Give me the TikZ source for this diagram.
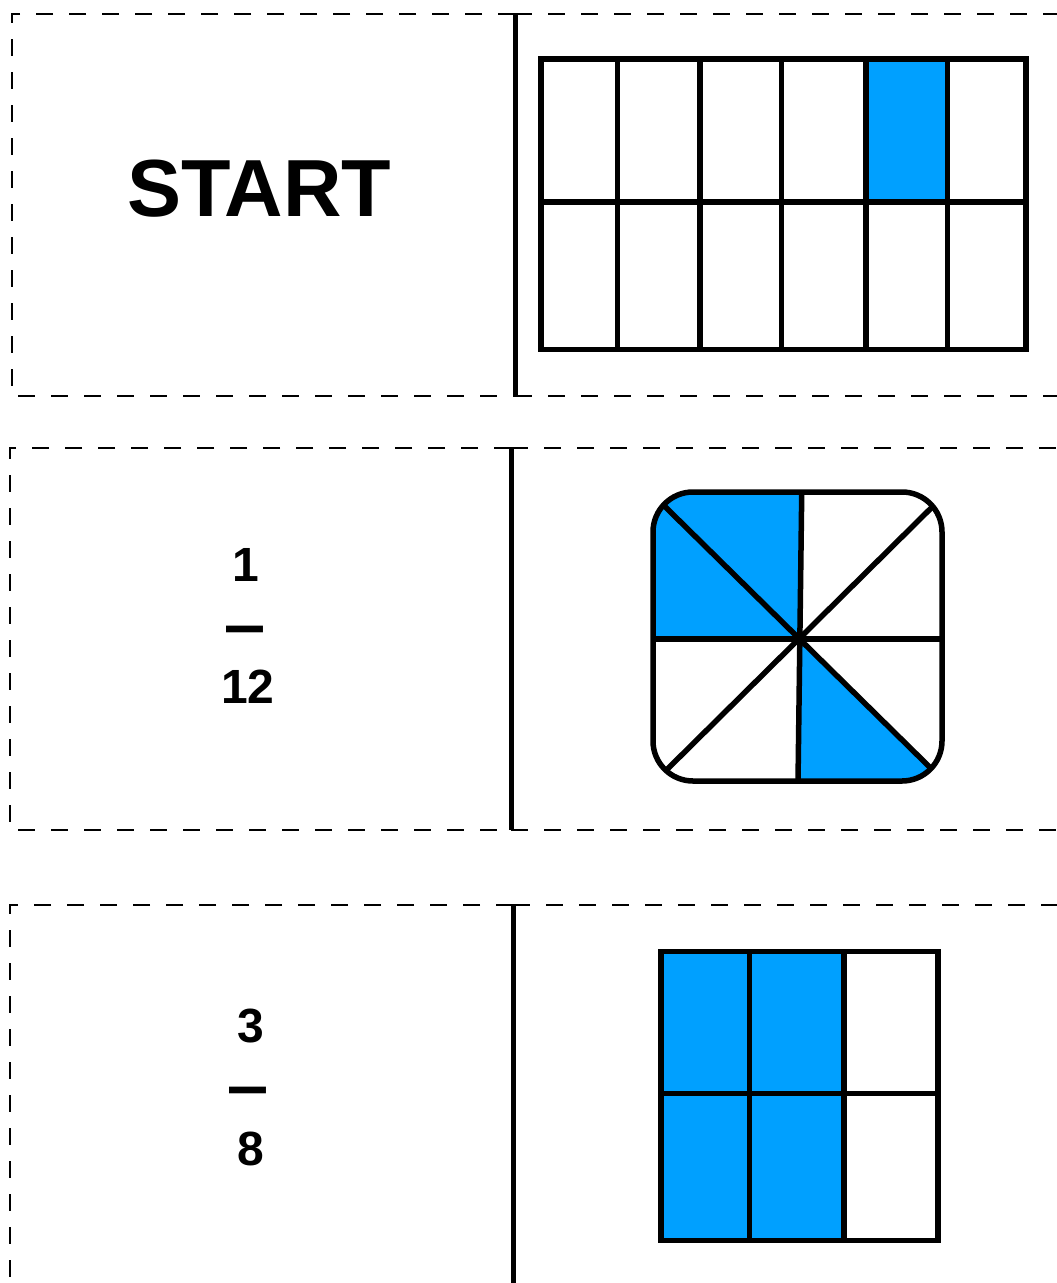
\documentclass[tikz,border=0pt]{standalone}
\usepackage{fontspec}
\setmainfont{Liberation Sans}
\usetikzlibrary{calc}
\definecolor{fillblue}{RGB}{0,160,255}
\tikzset{
  cut/.style={line width=2.4pt, dash pattern=on 17pt off 16pt},
  divider/.style={line width=5pt},
  gridline/.style={line width=5.5pt},
  shade/.style={fill=fillblue},
  bigword/.style={font=\fontsize{81}{81}\selectfont\bfseries, inner sep=0pt},
  fractext/.style={font=\fontsize{48}{48}\selectfont\bfseries, inner sep=0pt},
}
\begin{document}
\begin{tikzpicture}[x=1pt, y=-1pt]
\useasboundingbox (0,0) rectangle (1057,1283);
\fill[white] (0,0) rectangle (1057,1283);

% ---------- card 1 ----------
\draw[cut] (515,14) -- (12,14) -- (12,396) -- (515,396);
\draw[cut] (515,14) -- (1070,14);
\draw[cut] (515,396) -- (1070,396);
\draw[divider] (515,14) -- (515,396);
\node[bigword, anchor=base] (start) at (259,216) {START};

\fill[shade] (866,59) rectangle (947.5,202);
\draw[gridline] (541,59) rectangle (1026,349.5);
\foreach \gx in {617.5,700,781.5,866,947.5} {
  \draw[gridline] (\gx,59) -- (\gx,349.5);
}
\draw[gridline] (541,202) -- (1026,202);

% ---------- card 2 ----------
\draw[cut] (511,448) -- (10,448) -- (10,830) -- (511,830);
\draw[cut] (511,448) -- (1070,448);
\draw[cut] (511,830) -- (1070,830);
\draw[divider] (511,448) -- (511,830);
\node[fractext, anchor=base] (onenum) at (246,581) {1};
\node[fractext, anchor=base] (onebar) at (245,647) {\scalebox{0.77}[1.4]{—}};
\node[fractext, anchor=base] (oneden) at (248,703) {12};

\coordinate (c) at (800,639);
\begin{scope}
  \clip[rounded corners=40pt] (653,492) rectangle (942,781);
  \fill[shade] (c) -- (801.9,480) -- (640,480) -- (640,639) -- cycle;
  \fill[shade] (c) -- (797.9,790) -- (956,793) -- cycle;
  \draw[gridline] (801.9,480) -- (797.9,790);
  \draw[gridline] (640,639) -- (960,639);
  \draw[gridline] (640,482) -- (956,793);
  \draw[gridline] (956,483.4) -- (640.8,795.4);
\end{scope}
\draw[gridline, rounded corners=40pt] (653,492) rectangle (942,781);

% ---------- card 3 ----------
\draw[cut] (513,905) -- (10,905) -- (10,1300);
\draw[cut] (513,905) -- (1070,905);
\draw[divider] (513,905) -- (513,1300);
\node[fractext, anchor=base] (threenum) at (251,1042) {3};
\node[fractext, anchor=base] (threebar) at (248,1108) {\scalebox{0.77}[1.4]{—}};
\node[fractext, anchor=base] (threeden) at (251,1165) {8};

\fill[shade] (661,951.5) rectangle (844,1240.5);
\draw[gridline] (661,951.5) rectangle (938,1240.5);
\draw[gridline] (749.5,951.5) -- (749.5,1240.5);
\draw[gridline] (844,951.5) -- (844,1240.5);
\draw[gridline] (661,1093.5) -- (938,1093.5);
\end{tikzpicture}
\end{document}
